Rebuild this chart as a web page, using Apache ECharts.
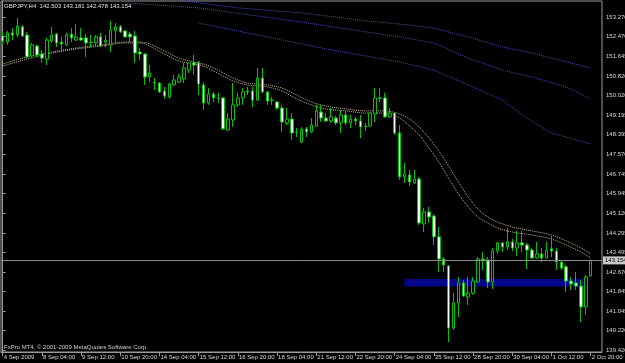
<!DOCTYPE html>
<html>
<head>
<meta charset="utf-8">
<script src="https://cdn.jsdelivr.net/npm/echarts@6.0.0/dist/echarts.min.js"></script>
<style>
  html, body { margin: 0; padding: 0; background: #000; }
  #chart { width: 625px; height: 363px; }
</style>
</head>
<body>
<div id="chart"></div>
<script>
// GBPJPY H4 bars, 4 Sep 2009 -> 2 Oct 2009 20:00
const opens = [152.50,152.25,152.63,152.54,152.88,152.54,151.67,152.08,151.75,151.54,
  152.29,152.58,152.25,152.13,152.58,152.33,152.42,152.42,152.25,152.21,
  152.46,152.25,152.13,152.71,152.88,152.71,152.58,152.50,151.83,151.75,
  150.79,150.58,150.54,150.21,149.96,150.46,150.58,150.71,151.08,151.38,
  151.38,150.46,149.71,150.08,149.92,149.92,148.58,149.00,149.63,149.92,
  150.21,150.21,149.83,150.75,150.17,149.83,149.75,149.50,148.88,149.04,
  148.48,148.08,148.63,148.50,148.75,149.33,149.08,148.96,149.08,148.88,
  149.21,148.88,149.04,148.96,148.75,148.75,149.25,149.92,149.92,149.13,
  149.29,148.46,146.63,146.71,146.38,146.54,144.67,145.17,145.00,144.13,
  143.21,142.92,140.33,141.38,142.21,141.63,141.79,142.25,143.21,143.17,
  142.25,143.54,143.88,143.71,143.92,143.67,143.88,143.79,143.58,143.25,
  143.42,143.25,143.63,143.54,143.08,142.88,142.29,142.21,142.08,141.21,
  142.503];
const closes = [152.29,152.63,152.54,152.92,152.50,151.63,152.13,151.71,151.58,152.33,
  152.54,152.21,152.17,152.54,152.42,152.46,152.33,152.21,152.23,152.46,
  152.08,152.33,152.75,152.88,152.67,152.46,152.46,151.79,151.75,150.79,
  150.96,150.54,150.17,150.00,150.50,150.67,150.79,151.17,151.38,151.29,
  150.50,149.71,150.08,149.92,149.90,148.63,149.04,149.63,149.92,150.17,
  150.17,149.83,150.75,150.17,149.79,149.81,149.50,148.92,149.04,148.46,
  148.50,148.63,148.50,148.79,149.38,149.08,148.96,149.13,148.88,149.21,
  148.88,149.04,148.96,148.71,148.73,149.29,149.92,149.90,149.13,149.29,
  148.46,146.63,146.75,146.42,146.54,144.71,145.17,144.96,144.13,143.21,
  142.96,140.33,141.38,142.21,141.67,141.79,142.29,143.21,143.17,142.25,
  143.54,143.88,143.71,143.92,143.67,143.88,143.79,143.58,143.25,143.42,
  143.25,143.58,143.54,143.08,142.83,142.29,142.17,142.08,141.21,142.46,
  143.154];
const lows = [152.13,152.13,152.33,152.46,152.46,151.58,151.63,151.63,151.38,151.29,
  152.21,152.04,151.83,152.08,152.25,152.29,152.29,151.63,152.04,152.04,
  152.04,152.04,151.83,152.21,152.63,152.44,152.25,151.38,151.50,150.46,
  150.58,150.25,150.13,149.88,149.88,150.44,150.54,150.54,150.96,150.88,
  150.04,149.42,149.63,149.75,149.71,148.58,148.54,148.71,149.54,149.63,
  150.04,149.54,149.79,150.13,149.63,149.63,149.42,148.50,148.79,148.17,
  148.29,148.04,148.29,148.46,148.71,148.92,148.92,148.88,148.79,148.46,
  148.79,148.67,148.79,148.25,148.54,148.71,148.92,149.75,149.08,149.08,
  148.38,146.50,146.38,146.25,146.33,144.63,144.33,144.71,143.79,142.67,
  142.67,139.75,140.25,140.79,141.63,141.29,141.71,142.21,142.75,142.00,
  141.96,143.42,143.50,143.58,143.54,143.33,143.50,142.79,143.21,143.21,
  143.08,143.23,143.29,142.75,142.75,141.83,141.92,141.92,140.58,140.88,
  142.478];
const highs = [152.67,152.71,152.83,153.25,152.96,152.67,152.21,152.13,151.92,152.42,
  152.88,152.63,152.46,152.63,152.83,153.00,152.83,152.58,152.54,152.54,
  152.63,152.54,153.13,153.04,152.96,152.75,152.67,152.71,152.00,151.79,
  151.29,150.75,150.58,150.38,150.54,150.88,150.92,151.38,151.42,151.71,
  151.46,150.58,150.33,150.17,150.13,149.94,149.29,150.54,150.13,150.33,
  150.38,150.38,151.17,151.17,150.21,149.96,149.79,149.63,149.50,149.29,
  148.67,148.71,148.71,149.08,149.63,149.63,149.29,149.50,149.17,149.42,
  149.42,149.21,149.13,149.21,148.88,149.33,150.33,150.33,150.13,149.50,
  149.33,148.79,147.21,146.92,146.92,146.63,145.33,145.38,145.08,144.54,
  143.29,142.96,141.79,142.46,142.33,142.46,142.46,143.29,143.50,143.29,
  143.67,143.92,143.92,144.50,144.04,144.38,144.38,143.88,143.67,143.92,
  143.67,143.92,144.17,143.67,143.10,142.96,142.46,142.67,142.33,142.54,
  143.181];

// short moving averages (tan), read at these bar indexes
const maIdx = [0,5,10,15,20,25,28,30,33,36,39,41,43,45,47,50,54,57,60,63,66,70,74,78,81,83,85,87,89,91,93,95,97,99,101,104,108,112,115,118,120];
const maFast = [151.25,151.54,151.79,151.96,152.08,152.21,152.21,152.08,151.75,151.46,151.33,151.25,151.04,150.83,150.63,150.46,150.38,150.21,149.88,149.63,149.46,149.38,149.29,149.29,149.08,148.75,148.38,147.83,147.25,146.58,145.92,145.38,144.96,144.71,144.50,144.33,144.21,144.04,143.79,143.50,143.25];
const maSlow = [151.33,151.63,151.83,152.00,152.13,152.25,152.25,152.17,151.88,151.58,151.42,151.33,151.17,150.96,150.75,150.54,150.46,150.33,150.04,149.75,149.58,149.46,149.38,149.38,149.25,149.04,148.71,148.25,147.71,147.08,146.42,145.79,145.29,144.96,144.75,144.54,144.38,144.21,143.96,143.67,143.42];

// long moving averages (blue)
const long1Idx = [35,40,48,61,68,74,81,88,95,102,108,115,120];
const long1 = [154.04,153.88,153.67,153.46,153.29,153.13,153.00,152.83,152.46,152.04,151.79,151.42,151.17];
const long2Idx = [25,40,61,81,88,95,102,108,115,120];
const long2 = [153.88,153.67,153.08,152.46,152.21,151.58,151.08,150.79,150.38,149.88];
const long3Idx = [40,47,54,61,67,74,81,88,95,102,107,112,120];
const long3 = [153.04,152.75,152.46,152.17,151.92,151.67,151.42,151.08,150.46,149.83,149.08,148.46,148.00];

const priceTicks = [153.270,152.470,151.645,150.820,150.020,149.195,148.395,147.570,146.745,145.945,145.120,144.295,143.495,142.670,141.845,141.045,140.220,139.420];
const timeLabels = ['4 Sep 2009','8 Sep 04:00','9 Sep 12:00','10 Sep 20:00','14 Sep 04:00','15 Sep 12:00','16 Sep 20:00','18 Sep 04:00','21 Sep 12:00','22 Sep 20:00','24 Sep 04:00','25 Sep 12:00','28 Sep 20:00','30 Sep 04:00','1 Oct 12:00','2 Oct 20:00'];
const barsPerLabel = 8;

const bidPrice = 143.154;
const zone = { from: 82, to: 119, low: 142.06, high: 142.37 };

const font = 'Liberation Sans, Arial, sans-serif';
const fs = 6;

let candles = opens.map((o, i) => [i, o, closes[i], lows[i], highs[i]]);
let timeTicks = timeLabels.map((t, k) => k * barsPerLabel);

function pairs(idx, vals) {
    return idx.map((x, k) => [x, vals[k]]);
}

function maLine(name, idx, vals, color, smooth) {
    return {
        name: name,
        type: 'line',
        data: pairs(idx, vals),
        showSymbol: false,
        smooth: smooth,
        silent: true,
        z: 3,
        lineStyle: { color: color, width: 1, type: 'dotted' }
    };
}

let myChart = echarts.init(document.getElementById('chart'));

let option = {
    backgroundColor: '#000000',
    animation: false,
    grid: {
        left: 1, right: 23, top: 1, bottom: 11,
        outerBoundsMode: 'none',
        containLabel: false,
        show: true, borderColor: '#9a9a9a', borderWidth: 1
    },
    xAxis: {
        type: 'value',
        min: -0.35,
        max: 122.31,
        splitLine: { show: false },
        axisLine: { show: true, lineStyle: { color: '#9a9a9a' } },
        axisTick: { show: true, customValues: timeTicks, length: 4, lineStyle: { color: '#9a9a9a' } },
        axisLabel: {
            customValues: timeTicks,
            formatter: (v) => timeLabels[Math.round(v / barsPerLabel)],
            align: 'left',
            margin: 2,
            padding: [0, 0, 0, 1],
            color: '#d8d8d8',
            fontSize: fs,
            fontFamily: font
        }
    },
    yAxis: {
        type: 'value',
        position: 'right',
        min: 139.333,
        max: 153.958,
        scale: true,
        splitLine: { show: false },
        axisLine: { show: true, lineStyle: { color: '#9a9a9a' } },
        axisTick: { show: true, customValues: priceTicks, length: 3, lineStyle: { color: '#9a9a9a' } },
        axisLabel: {
            customValues: priceTicks,
            formatter: (v) => v.toFixed(3),
            margin: 4,
            color: '#d8d8d8',
            fontSize: fs,
            fontFamily: font
        }
    },
    series: [
        {
            name: 'zone',
            type: 'line',
            data: [],
            z: 1,
            silent: true,
            markArea: {
                silent: true,
                itemStyle: { color: '#06068a' },
                data: [[{ coord: [zone.from, zone.high] }, { coord: [zone.to, zone.low] }]]
            },
            markLine: {
                silent: true,
                symbol: 'none',
                lineStyle: { color: '#8c8c8c', type: 'solid', width: 1 },
                label: {
                    position: 'end',
                    distance: 1,
                    formatter: bidPrice.toFixed(3),
                    color: '#000',
                    backgroundColor: '#c8c8c8',
                    padding: [1, 2],
                    fontSize: fs,
                    fontFamily: font
                },
                data: [{ yAxis: bidPrice }]
            }
        },
        maLine('ma1', long1Idx, long1, '#4a4ab8', false),
        maLine('ma2', long2Idx, long2, '#4a4ab8', false),
        maLine('ma3', long3Idx, long3, '#4a4ab8', false),
        maLine('maFast', maIdx, maFast, '#c4b396', 0.3),
        maLine('maSlow', maIdx, maSlow, '#c4b396', 0.3),
        {
            name: 'GBPJPY',
            type: 'candlestick',
            data: candles,
            dimensions: ['bar', 'open', 'close', 'lowest', 'highest'],
            encode: { x: 'bar', y: ['open', 'close', 'lowest', 'highest'] },
            barWidth: 3,
            z: 4,
            itemStyle: {
                color: '#000000',
                color0: '#f4fff4',
                borderColor: '#00c400',
                borderColor0: '#00c400',
                borderColorDoji: '#00c400',
                borderWidth: 1
            }
        }
    ],
    graphic: [
        {
            type: 'text', left: 4, top: 3,
            style: {
                text: 'GBPJPY,H4  142.503 143.181 142.478 143.154',
                fill: '#e0e0e0', fontSize: fs, fontFamily: font
            }
        },
        {
            type: 'text', left: 4, top: 344,
            style: {
                text: 'FxPro MT4, \u00a9 2001-2009 MetaQuotes Software Corp.',
                fill: '#d0d0d0', fontSize: fs, fontFamily: font
            }
        }
    ]
};

myChart.setOption(option);
</script>
</body>
</html>
